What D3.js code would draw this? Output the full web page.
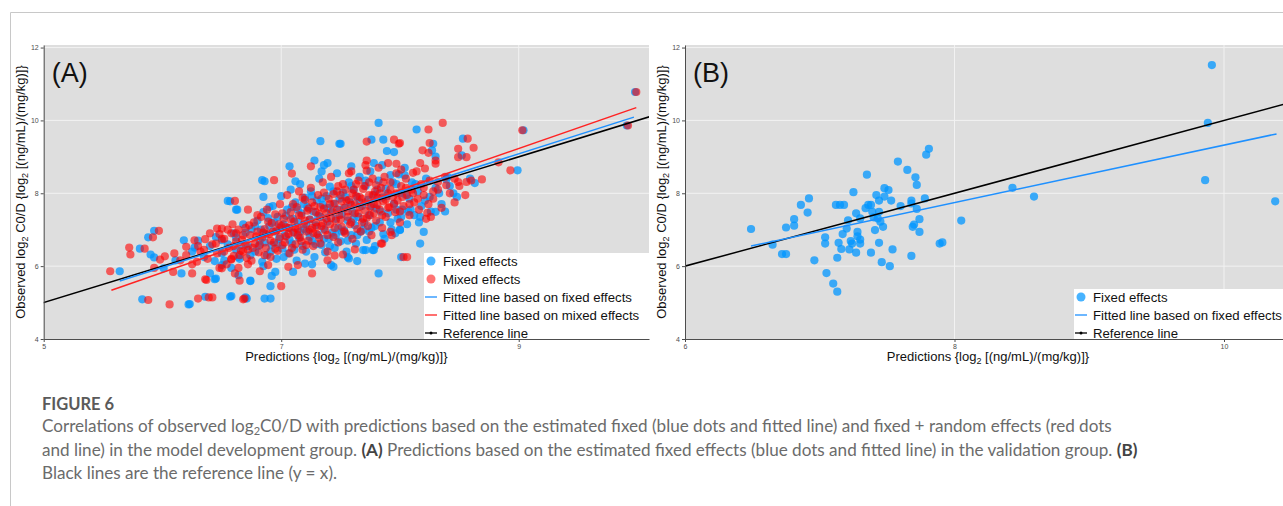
<!DOCTYPE html>
<html>
<head>
<meta charset="utf-8">
<script src="https://cdn.jsdelivr.net/npm/d3@7/dist/d3.min.js"></script>
<style>
  body { margin: 0; background: #fff; }
  svg { display: block; }
</style>
</head>
<body>
<svg id="fig"></svg>
<script>
const W = 1283, H = 506;

// ---- data ----
const fixedA = [
  [5.64,5.86],[5.83,5.09],[5.81,6.48],[5.88,6.79],[5.93,6.97],[5.90,6.32],[5.93,6.24],[6.11,6.16],[6.18,6.71],[6.27,6.51],
  [6.16,5.80],[6.23,4.96],[6.36,5.16],[6.44,6.14],[6.40,5.80],[6.45,5.66],[6.50,6.71],[6.58,5.18],[6.64,6.25],[6.55,7.79],
  [6.63,7.55],[6.70,5.14],[6.74,5.59],[6.64,5.75],[6.50,6.03],[6.01,5.94],[6.85,6.00],[6.91,5.45],[6.86,5.11],[6.91,5.11],
  [6.71,5.11],[6.57,5.16],[6.74,5.60],[6.44,5.64],[6.22,4.95],[6.57,7.78],[6.62,7.55],[7.07,8.74],[7.33,9.43],[7.82,9.93],
  [7.49,9.36],[7.76,9.47],[7.86,9.47],[7.89,9.16],[7.95,9.13],[7.28,8.90],[7.36,8.77],[7.39,8.83],[7.34,8.60],[7.78,8.83],
  [7.59,8.74],[7.85,8.77],[7.99,8.52],[6.84,8.36],[6.86,8.33],[7.12,8.33],[6.85,7.90],[6.90,7.62],[8.01,6.25],[7.82,5.80],
  [8.00,7.00],[7.78,6.44],[7.71,6.44],[7.64,6.14],[7.56,6.25],[7.42,6.03],[7.26,6.05],[7.20,6.07],[6.92,5.73],[6.95,5.84],
  [7.10,5.84],[8.14,9.75],[8.53,9.50],[8.28,9.36],[8.27,9.18],[8.52,9.04],[8.30,9.01],[8.04,8.49],[9.04,9.73],[8.99,8.63],
  [8.63,8.28],[8.59,8.40],[8.39,8.38],[8.30,7.49],[8.17,7.35],[8.20,6.94],[8.17,6.62],[8.07,7.49],[8.00,6.99],[9.98,10.78],
  [9.91,9.86],[7.50,9.36],[7.57,6.21],[7.44,5.98],[7.96,6.90],[7.69,6.44],[7.77,6.44],
  [6.72,6.55],[6.75,7.02],[6.78,6.40],[6.80,7.25],[6.82,6.70],[6.84,6.12],[6.85,7.48],[6.87,6.88],[6.88,6.30],[6.90,7.10],
  [6.92,6.58],[6.93,7.65],[6.95,6.95],[6.96,6.20],[6.97,7.35],[6.98,6.75],[7.00,7.92],[7.01,6.48],[7.02,7.15],[7.03,6.85],
  [7.05,7.55],[7.06,6.35],[7.07,7.05],[7.08,8.10],[7.09,6.62],[7.10,7.30],[7.11,6.92],[7.12,7.75],[7.13,6.15],[7.14,7.20],
  [7.15,6.78],[7.16,8.25],[7.17,7.45],[7.18,6.55],[7.19,7.02],[7.20,7.88],[7.21,6.40],[7.22,7.62],[7.23,6.95],[7.24,7.28],
  [7.25,8.05],[7.26,6.68],[7.27,7.50],[7.28,6.25],[7.29,7.12],[7.30,7.80],[7.31,6.85],[7.32,8.40],[7.33,7.35],[7.34,6.58],
  [7.35,7.68],[7.36,7.02],[7.37,6.38],[7.38,7.92],[7.39,7.22],[7.40,6.75],[7.41,8.18],[7.42,7.48],[7.43,6.92],[7.44,7.70],
  [7.45,6.50],[7.46,7.30],[7.47,8.55],[7.48,7.05],[7.49,7.85],[7.50,6.68],[7.51,7.42],[7.52,8.02],[7.53,6.98],[7.54,7.60],
  [7.55,6.40],[7.56,7.25],[7.57,8.30],[7.58,7.75],[7.59,6.85],[7.60,7.50],[7.61,8.10],[7.62,7.12],[7.63,6.62],[7.64,7.90],
  [7.65,7.35],[7.66,8.45],[7.67,6.95],[7.68,7.65],[7.70,7.18],[7.71,8.20],[7.72,6.72],[7.73,7.82],[7.74,7.40],[7.75,8.60],
  [7.76,7.05],[7.78,7.95],[7.79,6.55],[7.80,7.58],[7.82,8.35],[7.83,7.20],[7.85,7.88],[7.86,6.88],[7.88,8.12],[7.90,7.45],
  [7.92,8.50],[7.93,7.00],[7.95,7.72],[7.97,8.25],[7.98,7.30],[8.00,8.00],[8.02,7.55],[8.04,8.70],[8.06,7.15],[8.08,7.85],
  [8.10,8.30],[8.12,7.40],[8.15,8.05],[8.18,7.65],[8.22,8.40],[8.25,7.90],[8.30,8.15],[8.35,7.70],[8.40,8.45],[8.45,8.00],
  [6.60,6.90],[6.62,6.45],[6.65,6.20],[6.68,7.15],[6.55,6.60],[6.50,6.35],[6.45,6.80],
  [6.62,6.78],[6.66,6.58],[6.70,6.92],[6.74,6.30],[6.78,7.10],[6.81,6.55],[6.83,7.00],[6.86,6.65],[6.89,7.32],[6.91,6.40],
  [6.94,7.20],[6.97,6.62],[6.99,7.05],[7.02,6.25],[7.04,7.38],[7.07,6.72],[7.09,7.62],[7.11,6.45],[7.14,7.55],[7.16,6.95],
  [7.19,7.70],[7.21,7.15],[7.24,6.80],[7.26,7.92],[7.29,6.60],[7.31,7.38],[7.34,7.85],[7.36,6.75],[7.39,7.60],[7.41,6.55],
  [7.44,8.05],[7.46,6.85],[7.49,7.55],[7.51,6.95],[7.54,7.90],[7.56,6.70],[7.59,8.20],[7.61,7.30],[7.64,6.85],[7.66,7.75],
  [7.69,7.00],[7.71,8.35],[7.74,6.95],[7.76,7.65],[7.79,7.10],[7.81,8.10],[7.84,7.50],[7.87,6.75],[7.89,7.92],[7.92,7.20],
  [7.94,8.30],[7.97,7.55],[8.01,7.35],[8.05,7.95],[8.09,7.55],[8.13,8.25],[8.16,7.20],[8.21,7.80],[8.26,7.50],[8.33,8.00],
  [8.38,7.50],[8.42,8.20],[8.48,7.90],[6.40,6.55],[6.35,6.25],[6.52,6.15],[6.58,5.95],[6.30,6.70],[6.25,6.40]
];

const mixedA = [
  [5.56,5.86],[5.72,6.51],[5.73,6.32],[5.85,6.48],[5.92,6.79],[5.97,6.97],[5.98,6.18],[6.02,6.27],[5.88,5.07],[6.06,4.95],
  [5.93,5.95],[6.09,5.84],[6.20,6.53],[6.27,6.71],[6.36,6.74],[6.15,6.16],[6.25,5.80],[6.29,6.12],[6.30,5.11],[6.39,5.14],
  [6.42,5.14],[6.37,5.62],[6.46,7.03],[6.50,7.03],[6.59,7.15],[6.61,7.79],[6.54,6.05],[6.58,6.18],[6.65,5.60],[6.68,5.09],
  [6.61,5.80],[6.50,5.94],[7.00,5.45],[6.69,5.11],[6.36,5.64],[6.72,7.55],[7.25,8.74],[7.72,9.42],[7.95,9.47],[7.99,9.36],
  [7.09,8.54],[7.71,8.77],[7.72,8.90],[7.59,8.60],[7.90,8.83],[7.97,8.81],[8.01,8.65],[6.94,8.36],[8.03,6.25],[7.92,6.94],
  [7.84,6.62],[7.62,6.46],[7.52,6.32],[7.45,6.29],[7.39,6.16],[7.26,5.80],[7.14,6.03],[7.06,5.98],[6.82,5.86],[6.89,6.03],
  [8.24,9.75],[8.36,9.93],[8.00,9.38],[8.57,9.50],[8.25,9.38],[8.24,9.11],[8.19,9.18],[8.49,9.22],[8.62,9.25],[8.49,8.99],
  [8.56,8.99],[8.30,8.90],[8.30,8.81],[8.17,8.83],[8.21,8.68],[8.11,8.56],[9.03,9.73],[8.83,8.85],[8.93,8.63],[8.69,8.38],
  [8.56,8.31],[8.46,8.40],[8.49,8.31],[8.39,8.22],[8.32,8.31],[8.23,7.46],[8.26,7.35],[8.06,6.25],[9.99,10.78],[9.92,9.86],
  [7.85,6.62],
  [6.60,6.55],[6.62,6.90],[6.65,6.30],[6.67,6.72],[6.70,7.05],[6.72,6.45],[6.74,6.85],[6.75,6.15],[6.77,7.20],[6.78,6.62],
  [6.80,6.95],[6.81,6.38],[6.83,7.35],[6.84,6.78],[6.86,7.02],[6.87,6.50],[6.88,7.55],[6.90,6.88],[6.91,6.25],[6.92,7.18],
  [6.94,6.65],[6.95,7.42],[6.96,6.98],[6.97,6.42],[6.99,7.70],[7.00,7.10],[7.01,6.58],[7.02,7.30],[7.04,6.82],[7.05,7.95],
  [7.06,7.05],[7.07,6.35],[7.08,7.48],[7.10,6.92],[7.11,7.22],[7.12,6.60],[7.13,7.62],[7.14,7.00],[7.15,8.05],[7.16,6.78],
  [7.17,7.38],[7.18,6.45],[7.19,7.15],[7.20,7.82],[7.21,6.95],[7.22,7.52],[7.23,6.70],[7.24,7.28],[7.25,8.15],[7.26,7.05],
  [7.27,6.55],[7.28,7.65],[7.29,7.20],[7.30,6.88],[7.31,7.95],[7.32,7.42],[7.33,6.62],[7.34,7.10],[7.35,8.30],[7.36,7.58],
  [7.37,6.98],[7.38,7.30],[7.39,6.40],[7.40,7.85],[7.41,7.15],[7.42,8.45],[7.43,7.50],[7.44,6.80],[7.45,7.72],[7.46,7.25],
  [7.47,8.05],[7.48,6.65],[7.49,7.40],[7.50,7.95],[7.51,7.08],[7.52,8.25],[7.53,7.60],[7.54,6.90],[7.55,7.80],[7.56,7.35],
  [7.57,8.55],[7.58,7.15],[7.59,7.68],[7.60,6.75],[7.61,8.10],[7.62,7.45],[7.63,7.92],[7.64,7.02],[7.65,8.35],[7.66,7.62],
  [7.67,6.95],[7.68,7.85],[7.69,7.30],[7.70,8.20],[7.71,7.52],[7.72,8.62],[7.73,7.10],[7.74,7.95],[7.75,7.40],[7.76,6.85],
  [7.77,8.40],[7.78,7.70],[7.79,8.05],[7.80,7.25],[7.81,7.88],[7.82,8.70],[7.83,7.55],[7.84,8.15],[7.85,7.05],[7.86,7.78],
  [7.87,8.45],[7.88,7.35],[7.90,8.00],[7.91,7.62],[7.92,8.30],[7.93,6.85],[7.94,7.90],[7.96,7.48],[7.97,8.55],[7.98,7.80],
  [8.00,7.20],[8.01,8.20],[8.03,7.65],[8.05,8.40],[8.06,7.95],[8.08,7.40],[8.10,8.10],[8.12,7.75],[8.14,8.60],[8.16,7.55],
  [8.18,8.25],[8.20,7.95],[8.22,7.30],[8.25,8.35],[8.28,7.85],[8.32,8.10],[8.35,7.60],[8.38,8.45],[8.42,8.00],[8.46,7.75],
  [8.50,8.20],[8.55,7.95],[8.60,8.35],[6.50,6.75],[6.52,6.40],[6.55,7.00],[6.58,6.20],[6.45,6.62],[6.40,6.90],[6.35,6.45],
  [6.48,5.95],
  [6.62,6.68],[6.64,7.00],[6.66,6.42],[6.68,6.85],[6.70,6.60],[6.71,6.22],[6.73,7.12],[6.76,6.50],[6.79,6.82],[6.80,7.40],
  [6.82,6.58],[6.85,6.92],[6.86,6.30],[6.89,7.22],[6.91,6.70],[6.93,6.95],[6.95,6.48],[6.98,7.15],[6.99,6.80],[7.01,7.45],
  [7.03,6.65],[7.04,7.08],[7.06,6.88],[7.08,7.28],[7.09,6.50],[7.10,7.70],[7.12,7.05],[7.14,6.85],[7.15,7.40],[7.17,6.68],
  [7.18,7.88],[7.20,7.25],[7.21,6.58],[7.23,7.58],[7.24,7.00],[7.26,7.75],[7.27,6.90],[7.29,7.48],[7.30,7.08],[7.32,6.78],
  [7.33,7.62],[7.35,7.18],[7.36,8.02],[7.38,7.45],[7.39,6.85],[7.41,7.70],[7.42,7.32],[7.44,7.98],[7.45,7.05],[7.47,7.55],
  [7.48,8.20],[7.50,7.28],[7.51,7.78],[7.53,6.95],[7.54,8.10],[7.56,7.50],[7.57,7.82],[7.59,7.20],[7.60,8.00],[7.62,7.70],
  [7.63,8.25],[7.65,7.45],[7.66,7.90],[7.68,7.20],[7.69,8.12],[7.71,7.75],[7.72,7.32],[7.74,8.30],[7.75,7.62],[7.77,7.95],
  [7.78,7.45],[7.80,8.22],[7.81,7.68],[7.83,8.00],[7.85,7.40],[7.86,8.30],[7.88,7.82],[7.90,7.60],[7.92,8.10],[7.95,7.70],
  [7.97,8.00],[8.00,7.50],[8.02,7.90],[8.05,8.15],[8.08,7.70],[8.11,8.00],[8.15,7.85],[8.20,8.15],[8.24,7.70],[8.28,8.05],
  [6.20,6.30],[6.25,6.05],[6.32,6.40],[6.38,6.20],[6.42,6.60],[6.46,6.35],[6.52,6.75],[6.56,6.50],[6.60,6.28],[6.64,5.95],
  [6.68,6.40],[6.72,6.05],[6.58,6.90],[6.48,6.88],[6.30,6.55],[6.10,6.35]
];

const fixedB = [
  [6.49,7.02],[6.65,6.59],[6.72,6.33],[6.75,6.33],[6.75,7.06],[6.81,7.29],[6.81,7.11],[6.86,7.68],[6.91,7.47],[6.92,7.86],
  [6.96,6.16],[7.04,6.79],[7.04,6.62],[7.05,5.81],[7.10,5.52],[7.13,5.30],[7.13,6.23],[7.12,7.68],[7.15,7.68],[7.18,7.68],
  [7.14,6.64],[7.16,6.47],[7.17,6.88],[7.20,7.03],[7.21,7.26],[7.22,6.46],[7.23,6.69],[7.24,6.62],[7.25,8.03],[7.27,7.45],
  [7.27,6.37],[7.28,6.94],[7.28,6.82],[7.30,6.73],[7.30,6.62],[7.30,7.31],[7.35,8.51],[7.34,7.59],[7.36,7.68],[7.38,6.37],
  [7.38,7.68],[7.39,7.49],[7.40,7.34],[7.41,6.99],[7.42,7.95],[7.43,7.31],[7.44,7.80],[7.44,7.49],[7.44,6.64],[7.45,7.22],
  [7.46,6.11],[7.47,7.08],[7.48,7.91],[7.48,8.14],[7.51,8.09],[7.52,6.00],[7.53,7.80],[7.54,6.46],[7.58,8.87],[7.60,7.65],
  [7.65,8.64],[7.68,7.80],[7.68,7.72],[7.68,6.28],[7.69,7.08],[7.70,7.14],[7.71,8.44],[7.72,8.23],[7.72,7.57],[7.74,6.94],
  [7.74,7.29],[7.78,7.86],[7.79,9.06],[7.81,9.22],[7.89,6.62],[7.91,6.65],[8.05,7.25],[8.43,8.15],[8.59,7.91],[9.86,8.36],
  [9.88,9.93],[9.91,11.52],[10.38,7.78]
];

// fitted / reference lines: [x, y] end points
const fitFixedA = [[5.64, 5.59], [9.97, 10.09]];
const fitMixedA = [[5.57, 5.34], [9.99, 10.35]];
const fitFixedB = [[6.49, 6.55], [10.39, 9.63]];
const refLine = [[4, 4], [12, 12]];

const yTicks = [4, 6, 8, 10, 12];
const xTicksA = [5, 7, 9];
const xTicksB = [6, 8, 10];

const legendA = ["Fixed effects", "Mixed effects", "Fitted line based on fixed effects", "Fitted line based on mixed effects", "Reference line"];
const legendB = ["Fixed effects", "Fitted line based on fixed effects", "Reference line"];

const captionTitle = "FIGURE 6";
const captionLines = [
  [["Correlations of observed log"], ["2", "sub"], ["C0/D with predictions based on the estimated fixed (blue dots and fitted line) and fixed + random effects (red dots"]],
  [["and line) in the model development group. "], ["(A)", "b"], [" Predictions based on the estimated fixed effects (blue dots and fitted line) in the validation group. "], ["(B)", "b"]],
  [["Black lines are the reference line (y = x)."]]
];

// ---- styles ----
const BLUE = "#0096ff", RED = "#ff0000";
const BLUE_LINE = "#1e90ff", RED_LINE = "#ff2222";
const PANEL_BG = "#dedede";
const FONT = "'Liberation Sans', Arial, sans-serif";
const LEG = 18;

const svg = d3.select("#fig").attr("width", W).attr("height", H);

// outer frame
svg.append("path")
  .attr("d", `M10.5,${H} V12.5 H${W}`)
  .attr("fill", "none").attr("stroke", "#c8c8c8").attr("stroke-width", 1);

function panel(o) {
  const x = d3.scaleLinear().domain(o.xDomain).range([o.left, o.right]);
  const y = d3.scaleLinear().domain([4, 12.07]).range([339, 45]);
  const g = svg.append("g");

  g.append("rect")
    .attr("x", o.left).attr("y", 45)
    .attr("width", o.right - o.left).attr("height", 339 - 45)
    .attr("fill", PANEL_BG);

  const clipId = "clip" + o.id;
  g.append("clipPath").attr("id", clipId)
    .append("rect")
    .attr("x", o.left).attr("y", 45)
    .attr("width", o.right - o.left).attr("height", 339 - 45);

  // grid
  g.append("g").selectAll("line")
    .data(o.xTicks.filter(d => d > o.xDomain[0]))
    .join("line")
    .attr("x1", d => x(d)).attr("x2", d => x(d))
    .attr("y1", 45).attr("y2", 339)
    .attr("stroke", "#f2f2f2").attr("stroke-width", 1);
  g.append("g").selectAll("line")
    .data(yTicks.filter(d => d > 4))
    .join("line")
    .attr("x1", o.left).attr("x2", o.right)
    .attr("y1", d => y(d)).attr("y2", d => y(d))
    .attr("stroke", "#f2f2f2").attr("stroke-width", 1);

  const plot = g.append("g").attr("clip-path", `url(#${clipId})`);

  o.series.forEach(s => {
    plot.append("g").selectAll("circle")
      .data(s.data)
      .join("circle")
      .attr("cx", d => x(d[0]))
      .attr("cy", d => y(d[1]))
      .attr("r", 4.1)
      .attr("fill", s.color)
      .attr("fill-opacity", s.opacity);
  });

  const line = d3.line().x(d => x(d[0])).y(d => y(d[1]));
  o.lines.forEach(l => {
    plot.append("path")
      .attr("d", line(l.data))
      .attr("fill", "none")
      .attr("stroke", l.color)
      .attr("stroke-width", 1.5);
  });

  // legend
  const n = o.legend.length;
  const lg = g.append("g");
  lg.append("rect")
    .attr("x", o.legendX).attr("y", 339 - n * LEG + 4)
    .attr("width", o.right - o.legendX).attr("height", n * LEG - 4)
    .attr("fill", "#fff");
  o.legend.forEach((it, i) => {
    const cy = 339 - (n - i) * LEG + 12;
    const sx = o.legendX + 7;
    if (it.kind === "dot") {
      lg.append("circle").attr("cx", sx).attr("cy", cy).attr("r", 4.5)
        .attr("fill", it.color).attr("fill-opacity", it.opacity);
    } else {
      lg.append("line").attr("x1", sx - 6).attr("x2", sx + 6)
        .attr("y1", cy).attr("y2", cy)
        .attr("stroke", it.color).attr("stroke-width", 1.3);
      if (it.kind === "ref") {
        lg.append("circle").attr("cx", sx).attr("cy", cy).attr("r", 1.5).attr("fill", it.color);
      }
    }
    lg.append("text")
      .attr("x", o.legendX + 19).attr("y", cy + 4.7)
      .attr("font-family", FONT).attr("font-size", 13.2).attr("fill", "#111")
      .text(it.label);
  });

  // axes
  const fmt = d3.format("d");
  const ya = g.append("g")
    .attr("transform", `translate(${o.left},0)`)
    .call(d3.axisLeft(y).tickValues(yTicks).tickFormat(fmt).tickSize(3).tickSizeOuter(0).tickPadding(2));
  const xa = g.append("g")
    .attr("transform", `translate(0,339)`)
    .call(d3.axisBottom(x).tickValues(o.xTicks).tickFormat(fmt).tickSize(3).tickSizeOuter(0).tickPadding(2));
  [ya, xa].forEach(a => {
    a.select(".domain").attr("stroke", "#4d4d4d");
    a.selectAll(".tick line").attr("stroke", "#4d4d4d");
    a.selectAll(".tick text").attr("fill", "#4d4d4d").attr("font-size", 7).attr("font-family", FONT);
  });

  // axis titles
  const xt = g.append("text")
    .attr("x", (o.left + o.right) / 2).attr("y", 361)
    .attr("text-anchor", "middle")
    .attr("font-family", FONT).attr("font-size", 13).attr("fill", "#111");
  subText(xt, [["Predictions {log"], ["2", "sub"], [" [(ng/mL)/(mg/kg)]}"]], 9);

  const ytl = g.append("text")
    .attr("transform", `translate(${o.left - 19},192) rotate(-90)`)
    .attr("text-anchor", "middle")
    .attr("font-family", FONT).attr("font-size", 13).attr("fill", "#111");
  subText(ytl, [["Observed log"], ["2", "sub"], [" C0/D {log"], ["2", "sub"], [" [(ng/mL)/(mg/kg)]}"]], 9);

  g.append("text")
    .attr("x", o.left + 8).attr("y", 82)
    .attr("font-family", FONT).attr("font-size", 27).attr("fill", "#111")
    .text(o.label);
}

function subText(sel, parts, subSize) {
  parts.forEach((p, i) => {
    const t = sel.append("tspan").text(p[0]);
    if (p[1] === "sub") {
      t.attr("font-size", subSize).attr("dy", 3);
    } else if (i > 0 && parts[i - 1][1] === "sub") {
      t.attr("dy", -3);
    }
    if (p[1] === "b") t.attr("font-weight", "bold").attr("fill", "#444");
  });
}

panel({
  id: "A", label: "(A)", left: 43.7, right: 649, xDomain: [5, 10.097], xTicks: xTicksA,
  series: [
    { data: fixedA, color: BLUE, opacity: 0.75 },
    { data: mixedA, color: RED, opacity: 0.6 }
  ],
  lines: [
    { data: refLine, color: "#000" },
    { data: fitFixedA, color: BLUE_LINE },
    { data: fitMixedA, color: RED_LINE }
  ],
  legendX: 424,
  legend: [
    { label: legendA[0], kind: "dot", color: BLUE, opacity: 0.72 },
    { label: legendA[1], kind: "dot", color: RED, opacity: 0.55 },
    { label: legendA[2], kind: "line", color: BLUE_LINE },
    { label: legendA[3], kind: "line", color: RED_LINE },
    { label: legendA[4], kind: "ref", color: "#000" }
  ]
});

panel({
  id: "B", label: "(B)", left: 685, right: 1291, xDomain: [6, 6 + (1291 - 685) / 134.75], xTicks: xTicksB,
  series: [
    { data: fixedB, color: BLUE, opacity: 0.75 }
  ],
  lines: [
    { data: refLine, color: "#000" },
    { data: fitFixedB, color: BLUE_LINE }
  ],
  legendX: 1074,
  legend: [
    { label: legendB[0], kind: "dot", color: BLUE, opacity: 0.72 },
    { label: legendB[1], kind: "line", color: BLUE_LINE },
    { label: legendB[2], kind: "ref", color: "#000" }
  ]
});

// caption
svg.append("text")
  .attr("x", 42).attr("y", 410)
  .attr("font-family", "Lato, 'Open Sans', sans-serif").attr("font-size", 16.5)
  .attr("font-weight", "bold").attr("fill", "#5a5a5a")
  .text(captionTitle);

captionLines.forEach((parts, i) => {
  const t = svg.append("text")
    .attr("x", 42).attr("y", 432 + i * 23.5)
    .attr("font-family", "Lato, 'Open Sans', sans-serif").attr("font-size", 17.1)
    .attr("fill", "#6b6b6b");
  subText(t, parts, 11);
});
</script>
</body>
</html>
